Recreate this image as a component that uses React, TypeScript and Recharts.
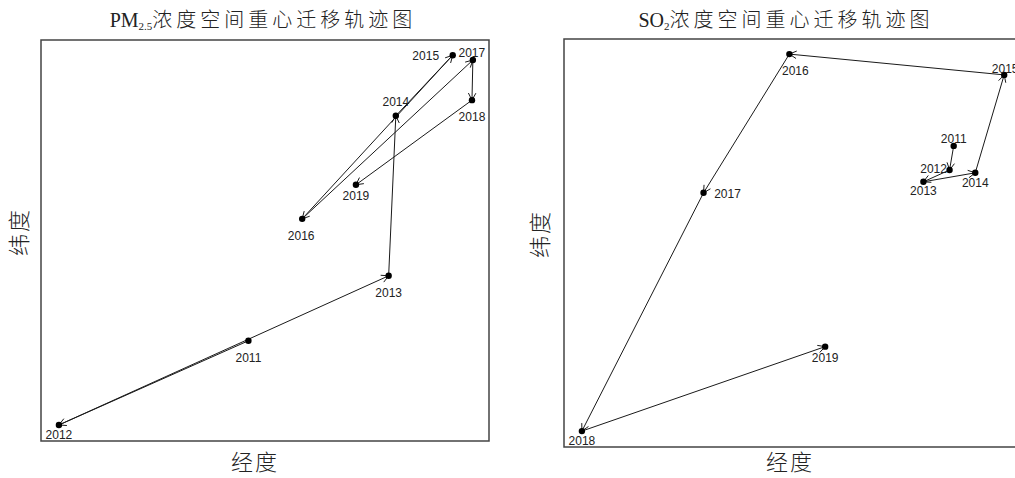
import React from 'react';
import { ScatterChart, Scatter, XAxis, YAxis, ReferenceArea } from 'recharts';

// 年份与重心坐标（无刻度，按框内 0–100 的相对位置读取）
const years = [2011, 2012, 2013, 2014, 2015, 2016, 2017, 2018, 2019];

const pmLon = [46.3, 4.0, 77.6, 79.2, 91.9, 58.3, 96.4, 96.2, 70.3];
const pmLat = [25.0, 4.0, 41.2, 81.1, 96.2, 55.4, 95.0, 85.0, 63.9];

const so2Lon = [84.9, 84.0, 78.3, 89.6, 95.9, 49.1, 30.4, 3.9, 56.9];
const so2Lat = [73.8, 67.9, 65.0, 67.2, 91.2, 96.3, 62.3, 3.9, 24.6];

// 年份标签相对点的偏移
const pmLabelOffset: Record<number, [number, number]> = {
  2011: [0, 17], 2012: [0, 10], 2013: [0, 17], 2014: [0, -14], 2015: [-27, 1],
  2016: [-1, 17], 2017: [-1, -7], 2018: [0, 17], 2019: [0, 11],
};
const so2LabelOffset: Record<number, [number, number]> = {
  2011: [0, -7], 2012: [-16, -1], 2013: [0, 9], 2014: [0, 10], 2015: [1, -6],
  2016: [6, 17], 2017: [24, 1], 2018: [0, 10], 2019: [0, 11],
};

const pmData = years.map((year, i) => ({ year, lon: pmLon[i], lat: pmLat[i] }));
const so2Data = years.map((year, i) => ({ year, lon: so2Lon[i], lat: so2Lat[i] }));

const INK = '#1a1a1a';

function ArrowPath(props: any) {
  const pts = props.points || [];
  const segs = [];
  for (let i = 0; i < pts.length - 1; i++) {
    const a = pts[i];
    const b = pts[i + 1];
    const ang = Math.atan2(b.y - a.y, b.x - a.x);
    const len = 8;
    const phi = (28 * Math.PI) / 180;
    const h1x = b.x - len * Math.cos(ang - phi);
    const h1y = b.y - len * Math.sin(ang - phi);
    const h2x = b.x - len * Math.cos(ang + phi);
    const h2y = b.y - len * Math.sin(ang + phi);
    segs.push(
      <g key={i}>
        <line x1={a.x} y1={a.y} x2={b.x} y2={b.y} stroke={INK} strokeWidth={1} />
        <polyline points={`${h1x},${h1y} ${b.x},${b.y} ${h2x},${h2y}`} fill="none" stroke={INK} strokeWidth={1} />
      </g>
    );
  }
  return <g>{segs}</g>;
}

function makeDot(offsets: Record<number, [number, number]>) {
  return (p: any) => {
    const [dx, dy] = offsets[p.payload.year] || [0, 15];
    return (
      <g>
        <circle cx={p.cx} cy={p.cy} r={3.2} fill="#000" />
        <text
          x={p.cx + dx}
          y={p.cy + dy}
          textAnchor="middle"
          dominantBaseline="central"
          fontFamily='"Liberation Sans", Arial, sans-serif'
          fontSize={12}
          fill="#222"
        >
          {p.payload.year}
        </text>
      </g>
    );
  };
}

function Panel({ data, offsets, left, width, margin }: any) {
  return (
    <div style={{ position: 'absolute', left, top: 0 }}>
      <ScatterChart width={width} height={478} margin={margin}>
        <XAxis type="number" dataKey="lon" domain={[0, 100]} hide />
        <YAxis type="number" dataKey="lat" domain={[0, 100]} hide />
        <ReferenceArea x1={0} x2={100} y1={0} y2={100} fill="none" stroke="#444" strokeWidth={1.5} />
        <Scatter
          data={data}
          isAnimationActive={false}
          line={(lp: any) => <ArrowPath {...lp} />}
          shape={makeDot(offsets)}
        />
      </ScatterChart>
    </div>
  );
}

const cjk = '"Liberation Serif", "Noto Sans CJK SC", serif';

function Title({ cx, latin, sub, rest }: any) {
  return (
    <div
      style={{
        position: 'absolute', left: cx - 250, top: 8, width: 500, textAlign: 'center',
        fontFamily: cjk, fontSize: 20, lineHeight: '24px', color: '#222', whiteSpace: 'nowrap',
      }}
    >
      <span>{latin}</span>
      <span style={{ fontSize: 11, verticalAlign: '-3px' }}>{sub}</span>
      <span style={{ letterSpacing: 4, fontWeight: 300 }}>{rest}</span>
    </div>
  );
}

function XLabel({ cx }: any) {
  return (
    <div
      style={{
        position: 'absolute', left: cx - 60, top: 451, width: 120, textAlign: 'center',
        fontFamily: cjk, fontSize: 22, lineHeight: '24px', letterSpacing: 2, color: '#222', fontWeight: 300,
      }}
    >
      经度
    </div>
  );
}

function YLabel({ cx, cy }: any) {
  return (
    <div
      style={{
        position: 'absolute', left: cx - 40, top: cy - 12, width: 80, height: 24, textAlign: 'center',
        fontFamily: cjk, fontSize: 22, lineHeight: '24px', letterSpacing: 2, color: '#222', fontWeight: 300,
        transform: 'rotate(-90deg)',
      }}
    >
      纬度
    </div>
  );
}

export default function App() {
  return (
    <div
      style={{
        position: 'absolute', left: 0, top: 0, width: 1015, height: 478,
        overflow: 'hidden', background: '#fff',
      }}
    >
      <Panel data={pmData} offsets={pmLabelOffset} left={0} width={500}
        margin={{ top: 40, left: 41, right: 11, bottom: 37 }} />
      <Panel data={so2Data} offsets={so2LabelOffset} left={520} width={520}
        margin={{ top: 39, left: 44, right: 17, bottom: 31 }} />
      <Title cx={263} latin="PM" sub="2.5" rest="浓度空间重心迁移轨迹图" />
      <Title cx={786} latin="SO" sub="2" rest="浓度空间重心迁移轨迹图" />
      <XLabel cx={255} />
      <XLabel cx={790} />
      <YLabel cx={20} cy={232} />
      <YLabel cx={541} cy={234} />
    </div>
  );
}
